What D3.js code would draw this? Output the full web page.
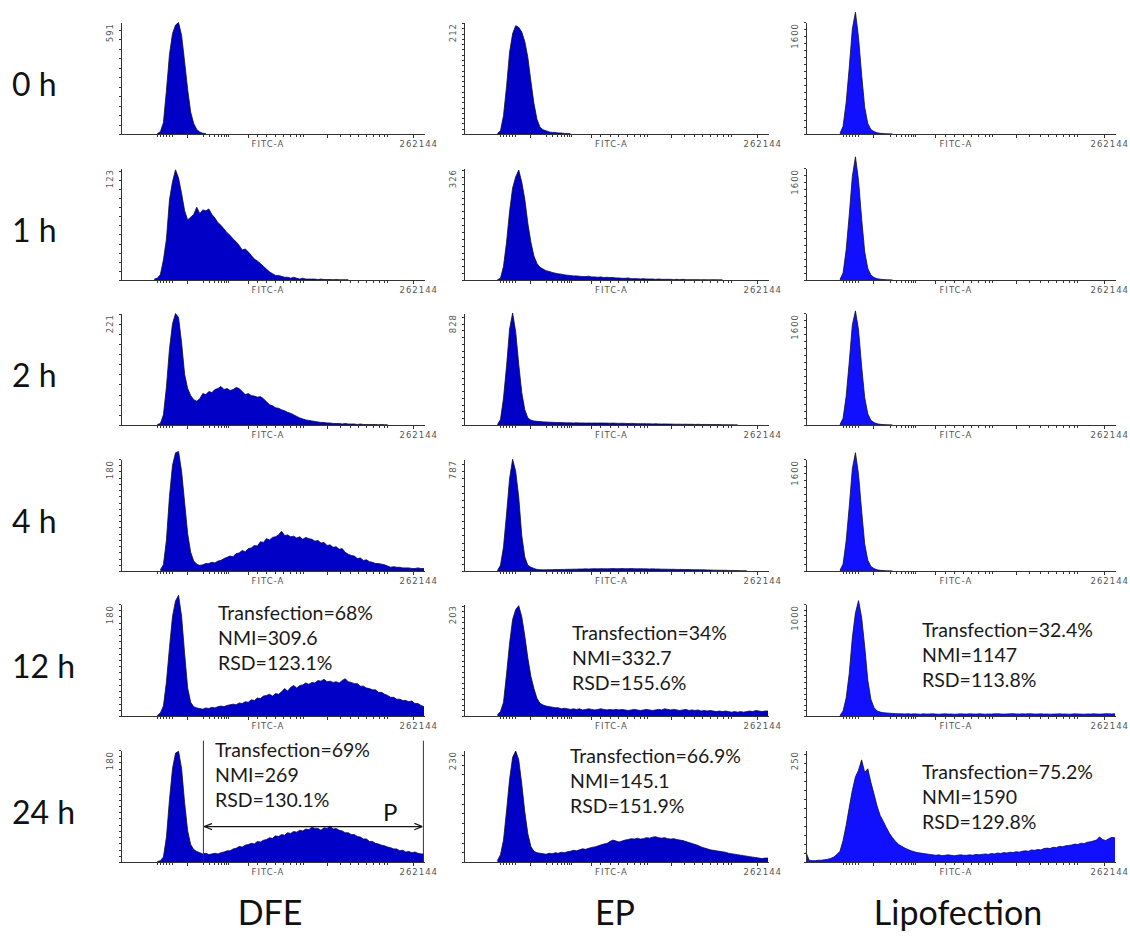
<!DOCTYPE html>
<html>
<head>
<meta charset="utf-8">
<script src="https://cdn.jsdelivr.net/npm/d3@7"></script>
<style>
  body { margin: 0; background: #fff; }
  svg { display: block; }
  .axis path, .axis line { stroke: #333; shape-rendering: crispEdges; }
  .axlab { font-family: "DejaVu Sans", sans-serif; font-size: 8.5px; fill: #555; letter-spacing: 1px; }
  .note { font-family: Lato, sans-serif; font-size: 19.5px; fill: #1a1a1a; }
  .rowlab { font-family: Lato, sans-serif; font-size: 32px; fill: #111; }
  .collab { font-family: Lato, sans-serif; font-size: 34px; fill: #111; }
</style>
</head>
<body>
<svg id="chart" width="1130" height="939"></svg>
<script>

const methods = ['DFE', 'EP', 'Lipofection'];
const times = ['0 h', '1 h', '2 h', '4 h', '12 h', '24 h'];

// y axis max label per panel
const dfeMax = [591, 123, 221, 180, 180, 180];
const epMax = [212, 326, 828, 787, 203, 230];
const lipoMax = [1600, 1600, 1600, 1600, 1000, 250];

// x axis ticks, in % of axis length
const xMajor = [21.8, 41.9, 68.0, 96.4];
const xMinor = [11.9, 12.9, 13.9, 14.9, 15.8, 16.8, 27.1, 29.0, 30.7, 32.0, 33.0, 34.0, 34.7, 35.3,
  44.9, 47.9, 50.8, 53.5, 55.8, 57.8, 59.1, 60.1, 72.3, 75.6, 78.2, 80.9, 83.2, 85.1, 86.8, 87.8];

// histograms: counts per 1% channel bin, starting at bin "from"
const dfe_0h = { from: 12, counts: [2, 12, 60, 230, 420, 530, 575, 588, 520, 380, 235, 115, 55, 24, 10, 4, 2] };
const dfe_1h = { from: 11, counts: [
  1, 2, 6, 22, 45, 88, 108, 121, 112, 95,
  76, 66, 69, 72, 80, 73, 77, 76, 78, 72,
  68, 63, 60, 56, 52, 49, 45, 42, 38, 33,
  34, 31, 27, 23, 21, 18, 15, 12, 9, 7,
  5, 5, 4, 3, 3, 2, 3, 2, 1, 2,
  1, 1, 1, 1, 0.5, 1, 0.5, 0.5, 0.5, 0.3,
  0.5, 0.3, 0.3, 0.3, 0.3] };
const dfe_2h = { from: 12, counts: [
  1, 3, 20, 75, 150, 200, 220, 212, 162, 100,
  72, 58, 50, 47, 52, 62, 60, 66, 64, 70,
  72, 76, 70, 72, 68, 70, 74, 72, 66, 60,
  62, 58, 57, 55, 56, 52, 46, 40, 38, 34,
  33, 30, 28, 25, 23, 20, 17, 14, 12, 10,
  9, 8, 7, 6, 5, 5, 4, 4, 3, 3,
  3, 2, 3, 2, 2, 2, 1, 2, 1, 1,
  1, 1, 1, 0.5, 1, 0.5, 0.5] };
const dfe_4h = { from: 13, counts: [
  2, 10, 50, 120, 170, 190, 192, 160, 110, 60,
  30, 16, 11, 9, 10, 12, 12, 14, 13, 16,
  17, 20, 22, 24, 23, 28, 29, 33, 31, 36,
  37, 41, 40, 47, 46, 52, 50, 54, 55, 58,
  64, 57, 58, 55, 56, 53, 55, 51, 54, 52,
  51, 48, 49, 45, 46, 41, 42, 38, 39, 35,
  36, 30, 27, 25, 24, 20, 21, 17, 18, 15,
  14, 12, 12, 11, 10, 8, 6, 7, 6, 6,
  5, 5, 5, 4, 4, 5, 4, 4] };
const dfe_12h = { from: 12, counts: [
  1, 5, 16, 55, 110, 160, 185, 194, 160, 100,
  45, 22, 15, 13, 12, 11, 13, 12, 14, 13,
  15, 16, 15, 17, 18, 19, 18, 21, 20, 23,
  22, 26, 25, 29, 28, 32, 33, 35, 32, 36,
  35, 39, 44, 40, 46, 49, 45, 49, 50, 53,
  51, 54, 53, 57, 56, 59, 55, 56, 54, 55,
  53, 57, 60, 55, 54, 52, 52, 48, 48, 45,
  44, 42, 42, 38, 38, 35, 33, 30, 30, 27,
  27, 25, 25, 23, 24, 20, 20, 17, 15] };
const dfe_24h = { from: 12, counts: [
  1, 2, 8, 40, 100, 150, 175, 178, 150, 95,
  50, 28, 20, 17, 15, 13, 14, 12, 13, 14,
  13, 15, 16, 18, 18, 21, 22, 25, 24, 27,
  28, 30, 29, 33, 32, 35, 36, 39, 38, 42,
  41, 44, 43, 47, 46, 49, 48, 51, 50, 53,
  52, 56, 54, 54, 51, 55, 54, 58, 53, 54,
  51, 50, 47, 47, 44, 44, 41, 40, 37, 37,
  33, 33, 30, 29, 27, 26, 24, 23, 21, 21,
  18, 19, 16, 17, 15, 16, 14, 13, 13] };

const ep_0h = { from: 11, counts: [1, 6, 35, 90, 155, 190, 205, 202, 193, 175, 145, 100, 58, 28, 13, 8, 6, 4, 3, 3, 2, 2, 1, 1, 0.5] };
const ep_1h = { from: 11, counts: [
  1, 5, 40, 110, 200, 268, 300, 320, 285, 235,
  165, 110, 70, 48, 37, 32, 27, 25, 22, 20,
  18, 17, 15, 14, 13, 12, 12, 11, 10, 10,
  11, 9, 9, 8, 9, 7, 8, 7, 7, 6,
  6, 5, 5, 6, 4, 4, 4, 3, 4, 3,
  3, 3, 2, 3, 2, 2, 2, 2, 1, 2,
  1, 2, 1, 1, 1, 1, 1, 0.5, 1, 0.5,
  0.5, 1, 0.5, 0.5, 0.5] };
const ep_2h = { from: 11, counts: [
  3, 40, 200, 434, 710, 828, 690, 450, 240, 113,
  52, 36, 30, 27, 25, 23, 22, 21, 20, 19,
  18, 18, 17, 16, 16, 15, 16, 15, 15, 14,
  15, 14, 15, 14, 15, 14, 14, 13, 14, 13,
  12, 13, 12, 11, 12, 11, 10, 10, 10, 9,
  9, 8, 9, 8, 7, 8, 7, 7, 6, 6,
  6, 5, 6, 5, 5, 4, 5, 4, 4, 4,
  3, 3, 3, 3, 2, 2, 2, 2, 1, 1] };
const ep_4h = { from: 11, counts: [
  3, 40, 170, 400, 650, 785, 700, 520, 250, 98,
  40, 27, 18, 11, 9, 8, 8, 9, 9, 10,
  10, 11, 11, 12, 12, 13, 13, 14, 14, 15,
  14, 15, 16, 15, 16, 16, 15, 16, 17, 16,
  16, 17, 16, 16, 17, 16, 15, 16, 15, 15,
  14, 15, 14, 14, 13, 13, 12, 12, 12, 11,
  11, 10, 10, 10, 9, 9, 9, 8, 8, 7,
  7, 6, 6, 5, 5, 5, 4, 4, 3, 3,
  2, 2, 1] };
const ep_12h = { from: 11, counts: [
  2, 8, 25, 76, 132, 175, 193, 200, 180, 145,
  105, 72, 50, 32, 23, 20, 18, 17, 16, 15,
  15, 13, 14, 13, 12, 13, 12, 13, 11, 12,
  13, 12, 11, 12, 13, 12, 11, 12, 11, 12,
  11, 12, 11, 10, 11, 12, 11, 10, 11, 12,
  11, 10, 11, 12, 11, 13, 12, 11, 12, 11,
  10, 11, 12, 10, 11, 10, 11, 9, 10, 9,
  10, 9, 8, 9, 8, 9, 8, 7, 8, 7,
  8, 7, 8, 9, 8, 10, 9, 8, 9, 9] };
const ep_24h = { from: 11, counts: [
  3, 15, 45, 105, 170, 215, 228, 210, 160, 103,
  58, 32, 22, 19, 18, 17, 16, 18, 17, 19,
  18, 20, 19, 21, 22, 24, 23, 25, 27, 26,
  28, 30, 31, 33, 35, 37, 38, 42, 45, 43,
  41, 43, 45, 46, 48, 47, 49, 47, 48, 50,
  49, 51, 52, 50, 49, 50, 48, 47, 48, 46,
  45, 44, 42, 40, 38, 36, 34, 31, 29, 27,
  25, 24, 23, 22, 21, 20, 18, 17, 16, 15,
  14, 13, 12, 11, 10, 9, 8, 7, 8, 8] };

const lipo_0h = { from: 11, counts: [10, 110, 450, 950, 1500, 1740, 1380, 850, 380, 150, 65, 35, 18, 10, 6, 4, 2, 1] };
const lipo_1h = { from: 11, counts: [8, 100, 430, 930, 1480, 1760, 1420, 880, 400, 165, 70, 36, 19, 11, 7, 4, 2, 1] };
const lipo_2h = { from: 11, counts: [8, 95, 410, 900, 1430, 1630, 1360, 840, 390, 160, 68, 34, 18, 10, 6, 4, 2, 1] };
const lipo_4h = { from: 11, counts: [9, 100, 430, 920, 1460, 1690, 1380, 860, 385, 155, 66, 34, 17, 10, 6, 3, 2, 1] };
const lipo_12h = { from: 11, counts: [
  5, 45, 160, 380, 700, 920, 1030, 880, 620, 320,
  150, 75, 45, 35, 30, 27, 25, 23, 21, 20,
  19, 18, 20, 17, 19, 18, 16, 19, 17, 18,
  20, 17, 16, 18, 19, 17, 18, 16, 17, 19,
  18, 17, 20, 18, 17, 19, 18, 16, 18, 17,
  19, 20, 18, 17, 18, 19, 21, 18, 17, 19,
  18, 20, 19, 17, 18, 19, 17, 18, 16, 17,
  18, 19, 17, 18, 16, 17, 19, 18, 17, 16,
  18, 17, 19, 18, 17, 18, 20, 19, 18, 20] };
const lipo_24h = { from: 0, counts: [
  22, 4, 3, 3, 4, 4, 5, 6, 8, 11,
  17, 24, 48, 82, 122, 160, 190, 205, 228, 200,
  208, 178, 152, 125, 104, 91, 77, 64, 54, 46,
  39, 35, 31, 28, 25, 23, 21, 20, 19, 18,
  17, 16, 15, 16, 14, 15, 16, 15, 14, 15,
  16, 15, 15, 16, 15, 17, 16, 17, 18, 17,
  19, 18, 20, 19, 21, 20, 22, 21, 23, 22,
  24, 25, 24, 27, 26, 28, 27, 30, 31, 30,
  33, 32, 35, 34, 36, 37, 38, 40, 39, 42,
  41, 44, 45, 47, 49, 56, 50, 48, 52, 55, 54] };

// text annotations (12 h and 24 h rows)
const dfeNotes = [null, null, null, null,
  ['Transfection=68%', 'NMI=309.6', 'RSD=123.1%'],
  ['Transfection=69%', 'NMI=269', 'RSD=130.1%']];
const epNotes = [null, null, null, null,
  ['Transfection=34%', 'NMI=332.7', 'RSD=155.6%'],
  ['Transfection=66.9%', 'NMI=145.1', 'RSD=151.9%']];
const lipoNotes = [null, null, null, null,
  ['Transfection=32.4%', 'NMI=1147', 'RSD=113.8%'],
  ['Transfection=75.2%', 'NMI=1590', 'RSD=129.8%']];

// gate P on DFE 24 h (x in %, y in counts)
const gateP = { label: 'P', from: 27.2, to: 99.8, arrowAt: 57, top: 195 };


const histograms = [
  [dfe_0h, dfe_1h, dfe_2h, dfe_4h, dfe_12h, dfe_24h],
  [ep_0h, ep_1h, ep_2h, ep_4h, ep_12h, ep_24h],
  [lipo_0h, lipo_1h, lipo_2h, lipo_4h, lipo_12h, lipo_24h]
];
const yMaxes = [dfeMax, epMax, lipoMax];
const notes = [dfeNotes, epNotes, lipoNotes];

// layout
const colLeft = [121, 464, 806];
const colWidth = [303, 304, 309];
const colCenter = [270, 615, 958];
const fills = ['#0000c6', '#0000c6', '#1010ff'];
const plotH = 112;
const rowBase = r => Math.round(134 + r * 145.6);
// [dx, dy] of first note line, per column for rows 12 h / 24 h
const noteOffset = [
  [[97, -96], [94, -105]],
  [[108, -76], [106, -99]],
  [[116, -79], [116, -83]]
];
const noteLineH = 25;

const svg = d3.select('#chart');

svg.append('defs').append('marker')
  .attr('id', 'arrow')
  .attr('viewBox', '0 0 10 10')
  .attr('refX', 10).attr('refY', 5)
  .attr('markerWidth', 8).attr('markerHeight', 8)
  .attr('markerUnits', 'userSpaceOnUse')
  .attr('orient', 'auto-start-reverse')
  .append('path')
  .attr('d', 'M0,1 L10,5 L0,9')
  .attr('fill', 'none')
  .attr('stroke', '#111')
  .attr('stroke-width', 1.5);

methods.forEach(function (m, c) {
  const w = colWidth[c];
  const x = d3.scaleLinear().domain([0, 100]).range([0, w]);

  times.forEach(function (t, r) {
    const hist = histograms[c][r];
    const yMax = yMaxes[c][r];
    const y = d3.scaleLinear().domain([0, yMax]).range([0, -plotH]);

    const g = svg.append('g')
      .attr('transform', 'translate(' + colLeft[c] + ',' + rowBase(r) + ')');

    const pts = hist.counts.map((v, i) => [hist.from + i, v]);

    const area = d3.area()
      .x(d => x(d[0]))
      .y0(0)
      .y1(d => y(d[1]));
    const line = d3.line()
      .x(d => x(d[0]))
      .y(d => y(d[1]));

    g.append('path').datum(pts)
      .attr('d', area)
      .attr('fill', fills[c]);
    g.append('path').datum(pts)
      .attr('d', line)
      .attr('fill', 'none')
      .attr('stroke', '#111')
      .attr('stroke-width', 0.8);

    // x axis: major + minor ticks, no labels
    g.append('g').attr('class', 'axis')
      .call(d3.axisBottom(x).tickValues(xMajor).tickSize(4).tickSizeOuter(0).tickFormat(''));
    g.append('g').attr('class', 'axis')
      .call(d3.axisBottom(x).tickValues(xMinor).tickSize(2.5).tickSizeOuter(0).tickFormat(''))
      .call(s => s.select('.domain').remove());

    // y axis
    g.append('g').attr('class', 'axis')
      .call(d3.axisLeft(y).ticks(15).tickSize(2).tickSizeOuter(0).tickFormat(''));

    g.append('text').attr('class', 'axlab')
      .attr('transform', 'translate(-8,' + (-plotH + 1) + ') rotate(-90)')
      .attr('text-anchor', 'end')
      .text(yMax);

    g.append('text').attr('class', 'axlab')
      .attr('x', w * 0.485).attr('y', 13)
      .attr('text-anchor', 'middle')
      .text('FITC-A');
    g.append('text').attr('class', 'axlab')
      .attr('x', w + 14).attr('y', 13)
      .attr('text-anchor', 'end')
      .text('262144');

    const lines = notes[c][r];
    if (lines) {
      const off = noteOffset[c][r - 4];
      g.selectAll('.note').data(lines).enter().append('text')
        .attr('class', 'note')
        .attr('x', off[0])
        .attr('y', (d, i) => off[1] + i * noteLineH)
        .text(d => d);
    }

    if (c === 0 && r === 5) {
      const gate = g.append('g');
      [gateP.from, gateP.to].forEach(function (v) {
        gate.append('line')
          .attr('x1', x(v)).attr('x2', x(v))
          .attr('y1', y(gateP.top)).attr('y2', 0)
          .attr('stroke', '#333').attr('stroke-width', 1);
      });
      gate.append('line')
        .attr('x1', x(gateP.from) + 1).attr('x2', x(gateP.to) - 1)
        .attr('y1', y(gateP.arrowAt)).attr('y2', y(gateP.arrowAt))
        .attr('stroke', '#111').attr('stroke-width', 1.2)
        .attr('marker-start', 'url(#arrow)')
        .attr('marker-end', 'url(#arrow)');
      gate.append('text')
        .attr('x', x(gateP.to) - 26).attr('y', y(gateP.arrowAt) - 6)
        .attr('text-anchor', 'end')
        .style('font-family', 'Lato, sans-serif')
        .style('font-size', '24px')
        .attr('fill', '#111')
        .text(gateP.label);
    }
  });

  svg.append('text').attr('class', 'collab')
    .attr('x', colCenter[c]).attr('y', 925)
    .attr('text-anchor', 'middle')
    .text(m);
});

times.forEach(function (t, r) {
  svg.append('text').attr('class', 'rowlab')
    .attr('x', 12).attr('y', rowBase(r) - 38)
    .text(t);
});

</script>
</body>
</html>
